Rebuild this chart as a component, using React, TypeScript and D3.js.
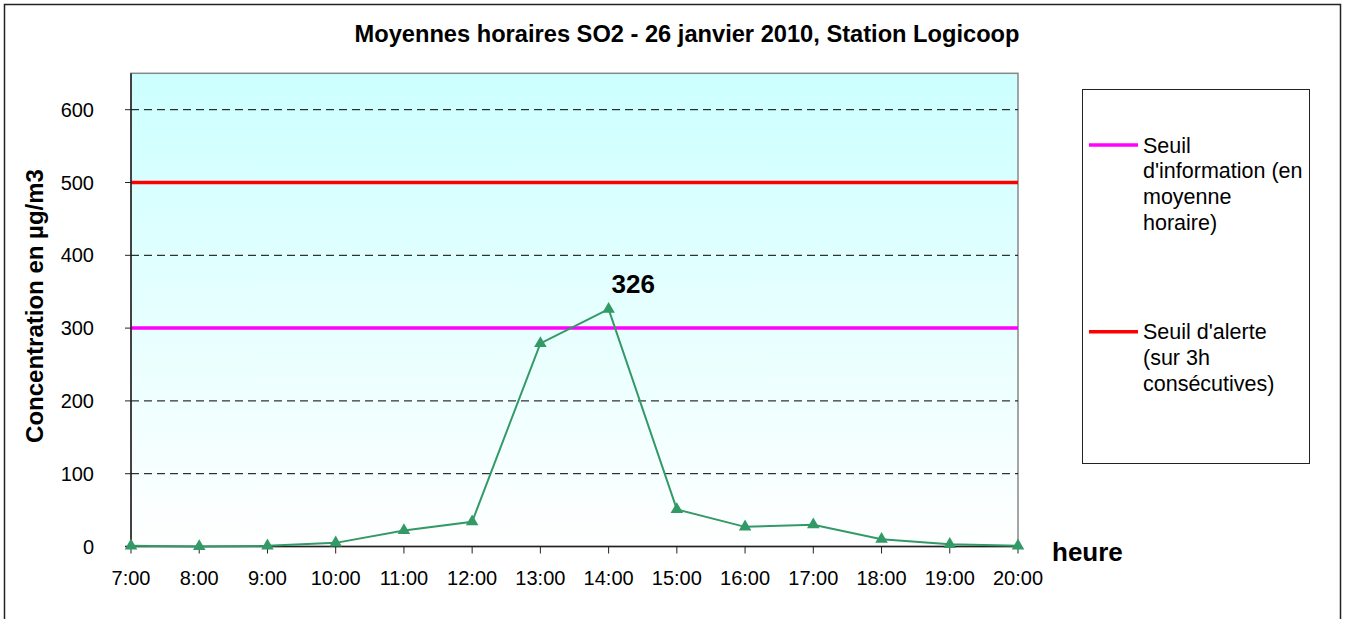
import React from 'react';
import * as d3 from 'd3';

// heures et moyennes horaires SO2 (µg/m3)
const hours = ['7:00', '8:00', '9:00', '10:00', '11:00', '12:00', '13:00', '14:00', '15:00', '16:00', '17:00', '18:00', '19:00', '20:00'];
const so2 = [1, 0, 1, 5, 22, 34, 279, 326, 51, 27, 30, 10, 3, 1];
const yTicks = [0, 100, 200, 300, 400, 500, 600];
const seuilInfo = 300;
const seuilAlerte = 500;
const legendInfo = ['Seuil', "d'information (en", 'moyenne', 'horaire)'];
const legendAlerte = ["Seuil d'alerte", '(sur 3h', 'consécutives)'];

export default function App() {
  const width = 1346;
  const height = 619;
  const left = 131;
  const right = 1018;
  const top = 73.3;
  const bottom = 546.5;

  const x = d3.scalePoint<string>().domain(hours).range([left, right]);
  const y = d3.scaleLinear().domain([0, 650]).range([bottom, top]);
  const line = d3.line<number>().x((d, i) => x(hours[i])!).y(d => y(d));
  const tri = d3.symbol().type(d3.symbolTriangle).size(68)();

  const peakIdx = so2.indexOf(d3.max(so2)!);
  const font = 'Arial, "Liberation Sans", sans-serif';

  return (
    <svg width={width} height={height} style={{ position: 'absolute', left: 0, top: 0 }} fontFamily={font}>
      <defs>
        <linearGradient id="bg" x1="0" y1="0" x2="0" y2="1">
          <stop offset="0" stopColor="#ccffff" />
          <stop offset="1" stopColor="#ffffff" />
        </linearGradient>
      </defs>
      <rect x={0} y={0} width={width} height={height} fill="#fff" />
      <rect x={4.5} y={4.5} width={1336} height={630} fill="none" stroke="#222" strokeWidth={1.5} />

      <text x={687} y={42} textAnchor="middle" fontWeight="bold" fontSize={23} textLength={665} lengthAdjust="spacingAndGlyphs">
        Moyennes horaires SO2 - 26 janvier 2010, Station Logicoop
      </text>

      {/* zone de tracé */}
      <rect x={left} y={top} width={right - left} height={bottom - top} fill="url(#bg)" stroke="#888" strokeWidth={1.5} />

      {yTicks.filter(t => t > 0).map(t => (
        <line key={t} x1={left} x2={right} y1={y(t)} y2={y(t)} stroke="#000" strokeWidth={1} strokeDasharray="8,5" />
      ))}

      <line x1={left} x2={right} y1={y(seuilAlerte)} y2={y(seuilAlerte)} stroke="#ff0000" strokeWidth={3.5} />
      <line x1={left} x2={right} y1={y(seuilInfo)} y2={y(seuilInfo)} stroke="#ff00ff" strokeWidth={3.5} />

      {/* axes */}
      <line x1={left} x2={left} y1={top} y2={bottom} stroke="#222" strokeWidth={1.5} />
      <line x1={left - 6} x2={right} y1={bottom} y2={bottom} stroke="#222" strokeWidth={1.5} />
      {yTicks.map(t => (
        <g key={t}>
          <line x1={left - 6} x2={left} y1={y(t)} y2={y(t)} stroke="#222" strokeWidth={1} />
          <text x={94} y={y(t)} dy="0.35em" textAnchor="end" fontSize={20}>{t}</text>
        </g>
      ))}
      {hours.map(h => (
        <g key={h}>
          <line x1={x(h)} x2={x(h)} y1={bottom} y2={bottom + 7} stroke="#222" strokeWidth={1} />
          <text x={x(h)} y={585} textAnchor="middle" fontSize={20}>{h}</text>
        </g>
      ))}

      <text transform="translate(43,306) rotate(-90)" textAnchor="middle" fontWeight="bold" fontSize={24}>
        Concentration en µg/m3
      </text>
      <text x={1052} y={560.5} fontWeight="bold" fontSize={26}>heure</text>

      {/* série */}
      <path d={line(so2)!} fill="none" stroke="#339966" strokeWidth={2} />
      {so2.map((v, i) => (
        <path key={i} d={tri} transform={`translate(${x(hours[i])},${y(v)})`} fill="#339966" />
      ))}
      <text x={x(hours[peakIdx])! + 3} y={293} fontWeight="bold" fontSize={26}>{so2[peakIdx]}</text>

      {/* légende */}
      <rect x={1082.5} y={89.5} width={227} height={374} fill="#fff" stroke="#222" strokeWidth={1} />
      <line x1={1089} x2={1138} y1={145} y2={145} stroke="#ff00ff" strokeWidth={3.5} />
      {legendInfo.map((s, i) => (
        <text key={s} x={1143} y={152.7 + i * 25.7} fontSize={21.5}>{s}</text>
      ))}
      <line x1={1089} x2={1138} y1={331.7} y2={331.7} stroke="#ff0000" strokeWidth={3.5} />
      {legendAlerte.map((s, i) => (
        <text key={s} x={1143} y={339.4 + i * 25.7} fontSize={21.5}>{s}</text>
      ))}
    </svg>
  );
}
